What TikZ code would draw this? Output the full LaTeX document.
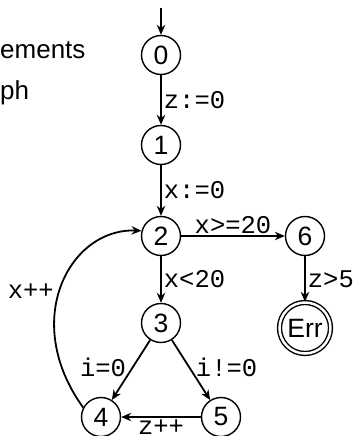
\documentclass[tikz,border=0pt]{standalone}
\usepackage{fontspec}
\setmainfont{Liberation Sans}
\setmonofont{Liberation Mono}
\usetikzlibrary{arrows.meta}

\begin{document}
\begin{tikzpicture}[x=1pt, y=-1pt, >={Stealth[length=10pt,width=8.5pt]},
  etat/.style={draw, circle, line width=1.4pt, minimum size=39pt, inner sep=0pt,
    font=\fontsize{26.5}{26.5}\selectfont},
  garde/.style={font=\ttfamily\fontsize{25.5}{25.5}\selectfont, inner sep=2pt},
  arc/.style={->, line width=1.8pt}]
\useasboundingbox (0,0) rectangle (357,436);
\node[anchor=west, inner sep=0pt, font=\fontsize{26}{26}\selectfont] (titre1) at (0,50) {ements};
\node[anchor=west, inner sep=0pt, font=\fontsize{26}{26}\selectfont] (titre2) at (0,93) {ph};
\foreach \n/\x/\y in {0/161/55, 1/161/145, 2/161/236, 3/161/323, 4/101/417, 5/221/417, 6/305/236}
  {\node[etat] (n\n) at (\x,\y) {\n};}
\node[etat, double, double distance=2.5pt, minimum size=51pt] (err) at (305,328) {Err};
\coordinate (debut) at (161,8);
\draw[arc] (debut) -- (n0);
\draw[arc] (n0) -- node[garde, right] {z:=0} (n1);
\draw[arc] (n1) -- node[garde, right] {x:=0} (n2);
\draw[arc] (n2) -- node[garde, above, inner sep=1pt] {x>=20} (n6);
\draw[arc] (n6) -- node[garde, right] {z>5} (err);
\draw[arc] (n2) -- node[garde, right] {x<20} (n3);
\draw[arc] (n3) -- node[garde, left, inner sep=6pt, pos=0.45] {i=0} (n4);
\draw[arc] (n3) -- node[garde, right, inner sep=6pt, pos=0.45] {i!=0} (n5);
\draw[arc] (n5) -- node[garde, below] {z++} (n4);
\draw[arc] (n4.152) .. controls (20,320) and (70,228) .. node[garde, left, pos=0.47, inner sep=5pt] {x++} (n2.165);
\end{tikzpicture}
\end{document}
